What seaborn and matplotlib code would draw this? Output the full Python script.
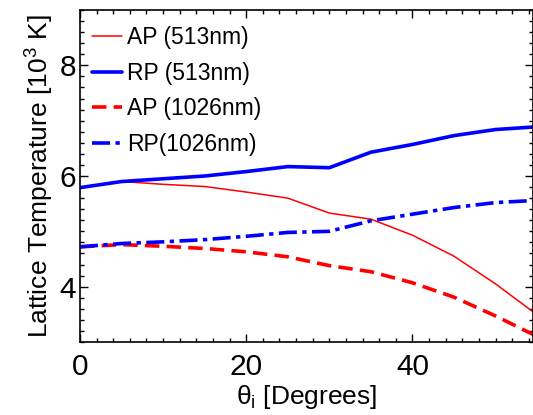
import pandas as pd
import matplotlib.pyplot as plt
import seaborn as sns
from matplotlib.ticker import MultipleLocator

# Data
theta = [0, 5, 10, 15, 20, 25, 30, 35, 40, 45, 50, 55]
ap_513 = [5.79, 5.90, 5.85, 5.81, 5.71, 5.60, 5.33, 5.22, 4.93, 4.55, 4.05, 3.49]
rp_513 = [5.79, 5.90, 5.95, 6.00, 6.08, 6.17, 6.15, 6.43, 6.57, 6.73, 6.84, 6.89]
ap_1026 = [4.72, 4.76, 4.73, 4.69, 4.63, 4.54, 4.38, 4.27, 4.07, 3.81, 3.47, 3.10]
rp_1026 = [4.72, 4.78, 4.81, 4.85, 4.91, 4.98, 5.00, 5.19, 5.31, 5.43, 5.52, 5.56]

sns.set_style("ticks")
plt.rcParams['font.family'] = ['Liberation Sans', 'DejaVu Sans']
plt.rcParams['mathtext.fontset'] = 'custom'
plt.rcParams['mathtext.rm'] = 'Liberation Sans'
plt.rcParams['mathtext.it'] = 'Liberation Sans'
plt.rcParams['text.color'] = 'black'
plt.rcParams['axes.labelcolor'] = 'black'
plt.rcParams['xtick.color'] = 'black'
plt.rcParams['ytick.color'] = 'black'
plt.rcParams['axes.edgecolor'] = 'black'

fig = plt.figure(figsize=(5.33, 4.15), dpi=100)
ax = fig.add_axes([80 / 533, 73 / 415, 1 - 80 / 533, 332 / 415])

sns.lineplot(x=theta, y=ap_513, color="red", lw=1.1, label="AP (513nm)", ax=ax)
sns.lineplot(x=theta, y=rp_513, color="blue", lw=2.6, label="RP (513nm)", ax=ax)
sns.lineplot(x=theta, y=ap_1026, color="red", lw=2.6, linestyle=(0, (4, 2)), label="AP (1026nm)", ax=ax)
sns.lineplot(x=theta, y=rp_1026, color="blue", lw=2.6, linestyle=(0, (5, 1.5, 1.2, 1.5)), label="RP(1026nm)", ax=ax)

ax.set_xlim(0, 54.5)
ax.set_ylim(3, 9)
ax.xaxis.set_major_locator(MultipleLocator(20))
ax.xaxis.set_minor_locator(MultipleLocator(2))
ax.yaxis.set_major_locator(MultipleLocator(2))
ax.yaxis.set_minor_locator(MultipleLocator(0.2))
ax.tick_params(which="both", direction="in", top=True, right=True, labelsize=21.5, width=1)
ax.tick_params(which="major", length=6)
ax.tick_params(which="minor", length=3)
ax.tick_params(axis="x", which="major", pad=8)
ax.tick_params(axis="y", which="major", pad=3)
for s in ax.spines.values():
    s.set_linewidth(1.2)

ax.set_xlabel(r"$\theta_{\rm i}$ [Degrees]", fontsize=19, labelpad=1)
ax.set_ylabel(r"Lattice Temperature [10$^{3}$ K]", fontsize=19, labelpad=2)

ax.legend(loc="upper left", frameon=False, fontsize=16.5, handlelength=1.35,
          handletextpad=0.2, labelspacing=0.55, borderaxespad=0.3, bbox_to_anchor=(-0.01, 1.0))

fig.savefig("out.png", dpi=100)
